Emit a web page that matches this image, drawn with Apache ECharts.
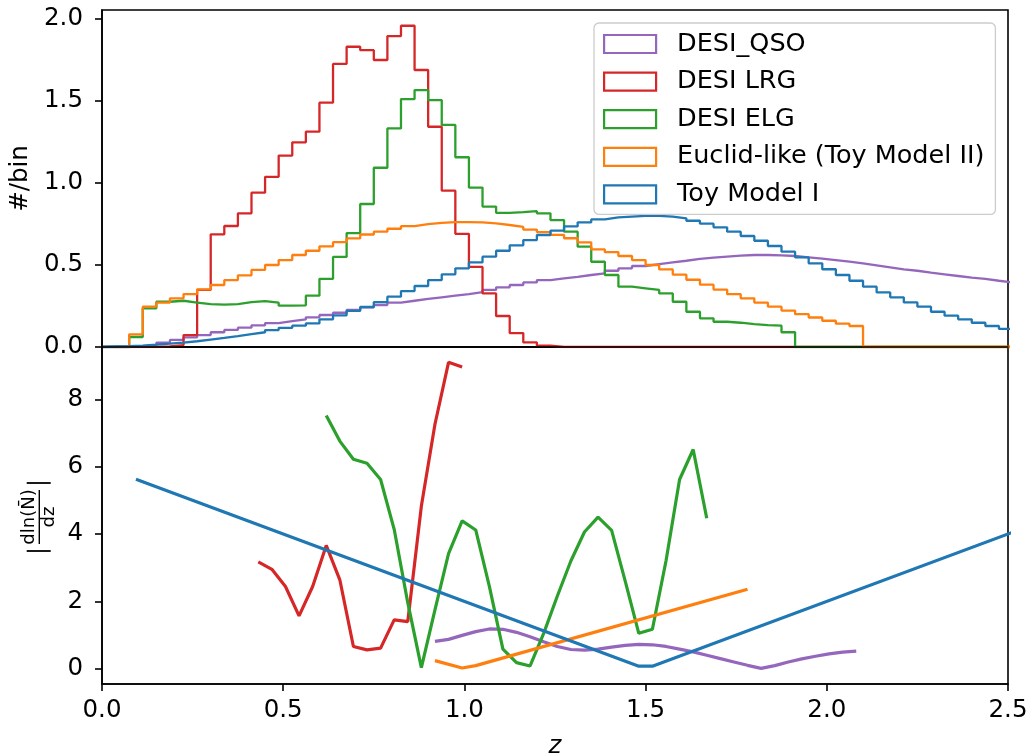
<!DOCTYPE html>
<html><head><meta charset="utf-8">
<script src="https://cdn.jsdelivr.net/npm/echarts@6/dist/echarts.min.js"></script>
<style>html,body{margin:0;padding:0;background:#fff}#c{width:1031px;height:756px}</style>
</head><body><div id="c"></div>
<script>
// ---------- data ----------
const binWidth = 0.0375; // histogram bin width in z
const sampleNames = ['DESI_QSO', 'DESI LRG', 'DESI ELG', 'Euclid-like (Toy Model II)', 'Toy Model I'];
const sampleColors = ['#9467bd', '#d62728', '#2ca02c', '#ff7f0e', '#1f77b4'];
const topTicks = [0, 0.5, 1.0, 1.5, 2.0];
const bottomTicks = [0, 2, 4, 6, 8];
const xTicks = [0, 0.5, 1.0, 1.5, 2.0, 2.5];

// top panel: #/bin, one value per bin (bin k spans k*binWidth .. (k+1)*binWidth)
const qsoHist = [0,0,0.005,0.012,0.026,0.043,0.059,0.073,0.09,0.104,0.118,0.132,0.146,0.158,0.168,0.181,0.195,0.209,0.226,0.242,0.256,0.27,0.282,0.293,0.303,0.313,0.323,0.335,0.348,0.364,0.378,0.394,0.408,0.418,0.428,0.439,0.449,0.465,0.48,0.494,0.506,0.516,0.526,0.537,0.545,0.551,0.557,0.561,0.561,0.559,0.555,0.547,0.539,0.53,0.52,0.51,0.498,0.486,0.474,0.465,0.453,0.443,0.433,0.423,0.415,0.404,0.394];
const lrgHist = [0,0,0,0,0.004,0.012,0.073,0.348,0.687,0.738,0.815,0.941,1.038,1.167,1.248,1.313,1.49,1.726,1.831,1.81,1.75,1.896,1.959,1.689,1.343,0.953,0.69,0.488,0.327,0.189,0.085,0.028,0.008,0,0,0,0,0,0,0,0,0,0,0,0,0,0,0,0,0,0,0,0,0,0,0,0,0,0,0,0,0,0,0,0,0,0];
const elgHist = [0,0,0.061,0.236,0.276,0.282,0.27,0.262,0.258,0.262,0.274,0.28,0.27,0.252,0.254,0.313,0.416,0.549,0.695,0.872,1.093,1.333,1.512,1.567,1.506,1.354,1.157,0.972,0.856,0.818,0.822,0.828,0.815,0.774,0.703,0.612,0.52,0.439,0.368,0.358,0.348,0.327,0.276,0.215,0.175,0.154,0.148,0.14,0.134,0.13,0.09,0,0,0,0,0,0,0,0,0,0,0,0,0,0,0,0];
const euclidHist = [0,0,0.077,0.246,0.27,0.297,0.323,0.352,0.378,0.408,0.437,0.47,0.5,0.53,0.561,0.587,0.614,0.639,0.662,0.686,0.703,0.721,0.737,0.749,0.757,0.762,0.762,0.76,0.754,0.744,0.732,0.716,0.701,0.684,0.663,0.638,0.595,0.578,0.555,0.53,0.5,0.473,0.441,0.41,0.38,0.35,0.322,0.297,0.271,0.246,0.222,0.2,0.18,0.16,0.142,0.128,0,0,0,0,0,0,0,0,0,0,0];
const toyHist = [0.003,0.005,0.009,0.014,0.02,0.027,0.035,0.045,0.055,0.066,0.078,0.09,0.103,0.117,0.13,0.144,0.169,0.193,0.22,0.244,0.274,0.307,0.341,0.372,0.408,0.443,0.48,0.516,0.551,0.587,0.62,0.652,0.683,0.71,0.735,0.76,0.778,0.79,0.795,0.799,0.799,0.795,0.785,0.77,0.752,0.73,0.703,0.677,0.648,0.616,0.581,0.547,0.51,0.474,0.439,0.404,0.368,0.333,0.303,0.272,0.246,0.215,0.191,0.169,0.148,0.128,0.11];

// bottom panel: |dln(N)/dz| at bin centres, [z, value]
const qsoDeriv = [[0.91875,0.81],[0.95625,0.87],[0.99375,0.99],[1.03125,1.10],[1.06875,1.18],[1.10625,1.17],[1.14375,1.08],[1.18125,0.95],[1.21875,0.80],[1.25625,0.66],[1.29375,0.57],[1.33125,0.55],[1.36875,0.58],[1.40625,0.64],[1.44375,0.69],[1.48125,0.72],[1.51875,0.71],[1.55625,0.66],[1.59375,0.58],[1.63125,0.50],[1.66875,0.40],[1.70625,0.30],[1.74375,0.20],[1.78125,0.10],[1.81875,0.01],[1.85625,0.09],[1.89375,0.20],[1.93125,0.29],[1.96875,0.37],[2.00625,0.44],[2.04375,0.49],[2.08125,0.52]];
const lrgDeriv = [[0.43125,3.17],[0.46875,2.95],[0.50625,2.44],[0.54375,1.57],[0.58125,2.44],[0.61875,3.66],[0.65625,2.64],[0.69375,0.66],[0.73125,0.56],[0.76875,0.61],[0.80625,1.45],[0.84375,1.40],[0.88125,4.83],[0.91875,7.26],[0.95625,9.1],[0.99375,8.96]];
const elgDeriv = [[0.61875,7.52],[0.65625,6.76],[0.69375,6.22],[0.73125,6.1],[0.76875,5.62],[0.80625,4.14],[0.84375,1.96],[0.88125,0.03],[0.91875,1.75],[0.95625,3.42],[0.99375,4.39],[1.03125,4.12],[1.06875,2.45],[1.10625,0.58],[1.14375,0.18],[1.18125,0.08],[1.21875,1.05],[1.25625,2.15],[1.29375,3.2],[1.33125,4.06],[1.36875,4.5],[1.40625,4.11],[1.44375,2.6],[1.48125,1.05],[1.51875,1.17],[1.55625,3.2],[1.59375,5.62],[1.63125,6.51],[1.66875,4.47]];
const euclidDeriv = [[0.91875,0.24],[0.99375,0.02],[1.03125,0.09],[1.78125,2.36]];
const toyDeriv = [[0.09375,5.625],[1.48125,0.075],[1.51875,0.075],[2.53125,4.125]];

// ---------- chart ----------
const FONT = 'DejaVu Sans';
const FS = 24.5;
function stepPoints(vals) {
  const pts = [[0, 0]];
  vals.forEach((v, k) => { pts.push([k * binWidth, v]); pts.push([(k + 1) * binWidth, v]); });
  pts.push([vals.length * binWidth, 0]);
  return pts;
}
const hists = [qsoHist, lrgHist, elgHist, euclidHist, toyHist];
const derivs = [qsoDeriv, lrgDeriv, elgDeriv, euclidDeriv, toyDeriv];

const series = [];
hists.forEach((h, i) => series.push({
  name: sampleNames[i], type: 'line', xAxisIndex: 0, yAxisIndex: 0,
  data: stepPoints(h), symbol: 'none', clip: true,
  color: sampleColors[i], itemStyle: { color: sampleColors[i] },
  lineStyle: { color: sampleColors[i], width: 2.3 }, z: 2 + i * 0.01
}));
derivs.forEach((d, i) => series.push({
  name: sampleNames[i], type: 'line', xAxisIndex: 1, yAxisIndex: 1,
  data: d, symbol: 'none', clip: true,
  color: sampleColors[i], itemStyle: { color: sampleColors[i] },
  lineStyle: { color: sampleColors[i], width: 3.2 }, z: 2 + i * 0.01
}));

const axisLineStyle = { color: '#000', width: 1.6 };
const labelStyle = { color: '#000', fontSize: FS, fontFamily: FONT };

const option = {
  animation: false,
  backgroundColor: '#fff',
  textStyle: { fontFamily: FONT },
  grid: [
    { left: 102, top: 10, width: 906, height: 337, show: true, borderColor: '#000', borderWidth: 1.6, backgroundColor: 'transparent', outerBoundsMode: 'none', containLabel: false },
    { left: 102, top: 347, width: 906, height: 337, show: true, borderColor: '#000', borderWidth: 1.6, backgroundColor: 'transparent', outerBoundsMode: 'none', containLabel: false }
  ],
  xAxis: [
    { gridIndex: 0, type: 'value', min: 0, max: 2.5, z: 5,
      axisLine: { show: true, onZero: false, lineStyle: axisLineStyle },
      axisTick: { show: false }, axisLabel: { show: false }, splitLine: { show: false } },
    { gridIndex: 1, type: 'value', min: 0, max: 2.5, interval: 0.5, z: 5,
      axisLine: { show: true, onZero: false, lineStyle: axisLineStyle },
      axisTick: { show: true, length: 7, lineStyle: axisLineStyle, customValues: xTicks },
      axisLabel: Object.assign({ margin: 14, formatter: v => v.toFixed(1), customValues: xTicks, showMinLabel: true, showMaxLabel: true }, labelStyle),
      splitLine: { show: false },
      name: 'z', nameLocation: 'middle', nameGap: 50,
      nameTextStyle: { fontStyle: 'italic', fontSize: FS, fontFamily: FONT, color: '#000' } }
  ],
  yAxis: [
    { gridIndex: 0, type: 'value', min: 0, max: 2.055, z: 5,
      axisLine: { show: true, onZero: false, lineStyle: axisLineStyle },
      axisTick: { show: true, length: 7, lineStyle: axisLineStyle, customValues: topTicks },
      axisLabel: Object.assign({ margin: 19, formatter: v => v.toFixed(1), customValues: topTicks }, labelStyle),
      splitLine: { show: false },
      name: '#/bin', nameLocation: 'middle', nameGap: 67, nameRotate: 90,
      nameTextStyle: { fontSize: FS, fontFamily: FONT, color: '#000' } },
    { gridIndex: 1, type: 'value', min: -0.455, max: 9.555, z: 5,
      axisLine: { show: true, onZero: false, lineStyle: axisLineStyle },
      axisTick: { show: true, length: 7, lineStyle: axisLineStyle, customValues: bottomTicks },
      axisLabel: Object.assign({ margin: 19, formatter: v => String(v), customValues: bottomTicks }, labelStyle),
      splitLine: { show: false } }
  ],
  legend: {
    data: sampleNames.map((n, i) => ({
      name: n, icon: 'rect',
      itemStyle: { color: '#ffffff', borderColor: sampleColors[i], borderWidth: 2.2, opacity: 1 }
    })),
    orient: 'vertical', left: 594, top: 23,
    padding: [8, 11, 7, 9], itemGap: 11.6, itemWidth: 52, itemHeight: 18,
    backgroundColor: 'rgba(255,255,255,0.85)', borderColor: '#cccccc', borderWidth: 1.3, borderRadius: 5,
    textStyle: { color: '#000', fontSize: 25.5, fontFamily: FONT, lineHeight: 24, padding: [0, 0, 0, 16] },
    selectedMode: false, z: 10
  },
  graphic: [{
    type: 'group', x: 39.3, y: 517, rotation: Math.PI / 2, z: 10,
    children: [
      { type: 'line', shape: { x1: -27, y1: 0, x2: 27, y2: 0 }, style: { stroke: '#000', lineWidth: 1.4 } },
      { type: 'text', x: 0, y: -1, style: { text: 'dln(N\u0304)', fontSize: 18, fontFamily: FONT, fill: '#000', align: 'center', verticalAlign: 'bottom' } },
      { type: 'text', x: 0, y: 1, style: { text: 'dz', fontSize: 18, fontFamily: FONT, fill: '#000', align: 'center', verticalAlign: 'top' } },
      { type: 'line', shape: { x1: -34, y1: -12.6, x2: -34, y2: 11.4 }, style: { stroke: '#000', lineWidth: 1.8 } },
      { type: 'line', shape: { x1: 34, y1: -12.6, x2: 34, y2: 11.4 }, style: { stroke: '#000', lineWidth: 1.8 } }
    ]
  }],
  series: series
};
const chart = echarts.init(document.getElementById('c'), null, { renderer: 'canvas', width: 1031, height: 756 });
chart.setOption(option);
</script>
</body></html>
